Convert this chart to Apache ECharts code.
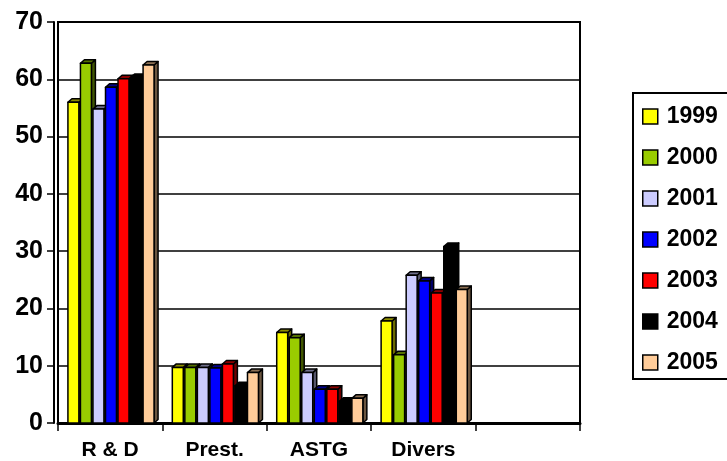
<!DOCTYPE html>
<html>
<head>
<meta charset="utf-8">
<script src="https://cdn.jsdelivr.net/npm/echarts@6/dist/echarts.min.js"></script>
<style>
  html, body { margin: 0; padding: 0; background: #fff; }
  #chart { width: 727px; height: 461px; }
</style>
</head>
<body>
<div id="chart"></div>
<script>
// Categories (the fifth slot is left empty on purpose)
const categories = ['R & D', 'Prest.', 'ASTG', 'Divers', ''];
const years = ['1999', '2000', '2001', '2002', '2003', '2004', '2005'];

// Values per year, one entry per category
const v1999 = [56.0, 9.7, 15.8, 17.8, null];
const v2000 = [62.8, 9.7, 14.9, 11.9, null];
const v2001 = [54.8, 9.7, 8.8, 25.8, null];
const v2002 = [58.6, 9.6, 5.9, 24.8, null];
const v2003 = [60.1, 10.3, 5.9, 22.7, null];
const v2004 = [60.3, 6.5, 3.8, 30.8, null];
const v2005 = [62.5, 8.8, 4.3, 23.3, null];
const yearValues = [v1999, v2000, v2001, v2002, v2003, v2004, v2005];

const yTicks = [0, 10, 20, 30, 40, 50, 60, 70];

const colors = ['#FFFF00', '#99CC00', '#CCCCFF', '#0000FF', '#FF0000', '#000000', '#FFCC99'];

function shade(hex, f) {
  const n = parseInt(hex.slice(1), 16);
  const r = Math.round(((n >> 16) & 255) * f);
  const g = Math.round(((n >> 8) & 255) * f);
  const b = Math.round((n & 255) * f);
  return 'rgb(' + r + ',' + g + ',' + b + ')';
}

const FONT = "'Liberation Sans', Arial, sans-serif";

// Pseudo-3D column: front face, top face and right side face
function renderBar(params, api) {
  const val = api.value(1);
  if (val == null || isNaN(val)) return;
  const cat = api.value(0);
  const base = api.coord([cat, 0]);
  const top = api.coord([cat, val]);
  const w = api.size([1, 0])[0];
  const pitch = w * 0.12;
  const bw = w * 0.105;
  const x0 = base[0] - w / 2 + w * 0.095 + params.seriesIndex * pitch;
  const yt = top[1], yb = base[1];
  const dx = 4, dy = 3.5;
  const c = colors[params.seriesIndex];
  const edge = { stroke: '#000', lineWidth: 1.5, lineJoin: 'round' };
  return {
    type: 'group',
    children: [
      {
        type: 'polygon',
        shape: { points: [[x0 + bw, yt], [x0 + bw + dx, yt - dy], [x0 + bw + dx, yb - dy], [x0 + bw, yb]] },
        style: Object.assign({ fill: shade(c, 0.42) }, edge)
      },
      {
        type: 'polygon',
        shape: { points: [[x0, yt], [x0 + dx, yt - dy], [x0 + bw + dx, yt - dy], [x0 + bw, yt]] },
        style: Object.assign({ fill: shade(c, 0.55) }, edge)
      },
      {
        type: 'rect',
        shape: { x: x0, y: yt, width: bw, height: yb - yt },
        style: Object.assign({ fill: c }, edge)
      }
    ]
  };
}

const series = years.map(function (y, i) {
  return {
    name: y,
    type: 'custom',
    renderItem: renderBar,
    itemStyle: { color: colors[i], borderColor: '#000', borderWidth: 1.5 },
    encode: { x: 0, y: 1 },
    data: yearValues[i].map(function (v, k) { return [k, v]; })
  };
});

const chart = echarts.init(document.getElementById('chart'), null, { renderer: 'canvas' });
chart.setOption({
  animation: false,
  backgroundColor: '#fff',
  grid: {
    left: 58, right: 147, top: 22, bottom: 37,
    show: true, borderColor: '#000', borderWidth: 2, backgroundColor: 'transparent'
  },
  legend: {
    orient: 'vertical',
    left: 633, top: 93,
    data: years,
    icon: 'rect',
    itemWidth: 15, itemHeight: 15,
    itemGap: 18,
    padding: [12, 30, 5, 9],
    borderColor: '#000', borderWidth: 2,
    itemStyle: { borderColor: '#000', borderWidth: 1.5 },
    textStyle: { color: '#000', fontFamily: FONT, fontWeight: 'bold', fontSize: 23, lineHeight: 23, padding: [0, 0, 0, 4] }
  },
  xAxis: {
    type: 'category',
    data: categories,
    boundaryGap: true,
    axisLine: { show: true, lineStyle: { color: '#000', width: 3 } },
    axisTick: { show: true, interval: 0, length: 8, lineStyle: { color: '#000', width: 1.5 } },
    axisLabel: { interval: 0, margin: 17, color: '#000', fontFamily: FONT, fontWeight: 'bold', fontSize: 21 },
    splitLine: { show: false }
  },
  yAxis: {
    type: 'value',
    min: yTicks[0], max: yTicks[yTicks.length - 1], interval: yTicks[1] - yTicks[0],
    offset: 4,
    axisLine: { show: true, lineStyle: { color: '#000', width: 2 } },
    axisTick: { show: true, length: 7, lineStyle: { color: '#000', width: 1.5 } },
    axisLabel: { margin: 11, color: '#000', fontFamily: FONT, fontWeight: 'bold', fontSize: 25 },
    splitLine: { show: true, lineStyle: { color: '#000', width: 1.5 } }
  },
  series: series
});
</script>
</body>
</html>
